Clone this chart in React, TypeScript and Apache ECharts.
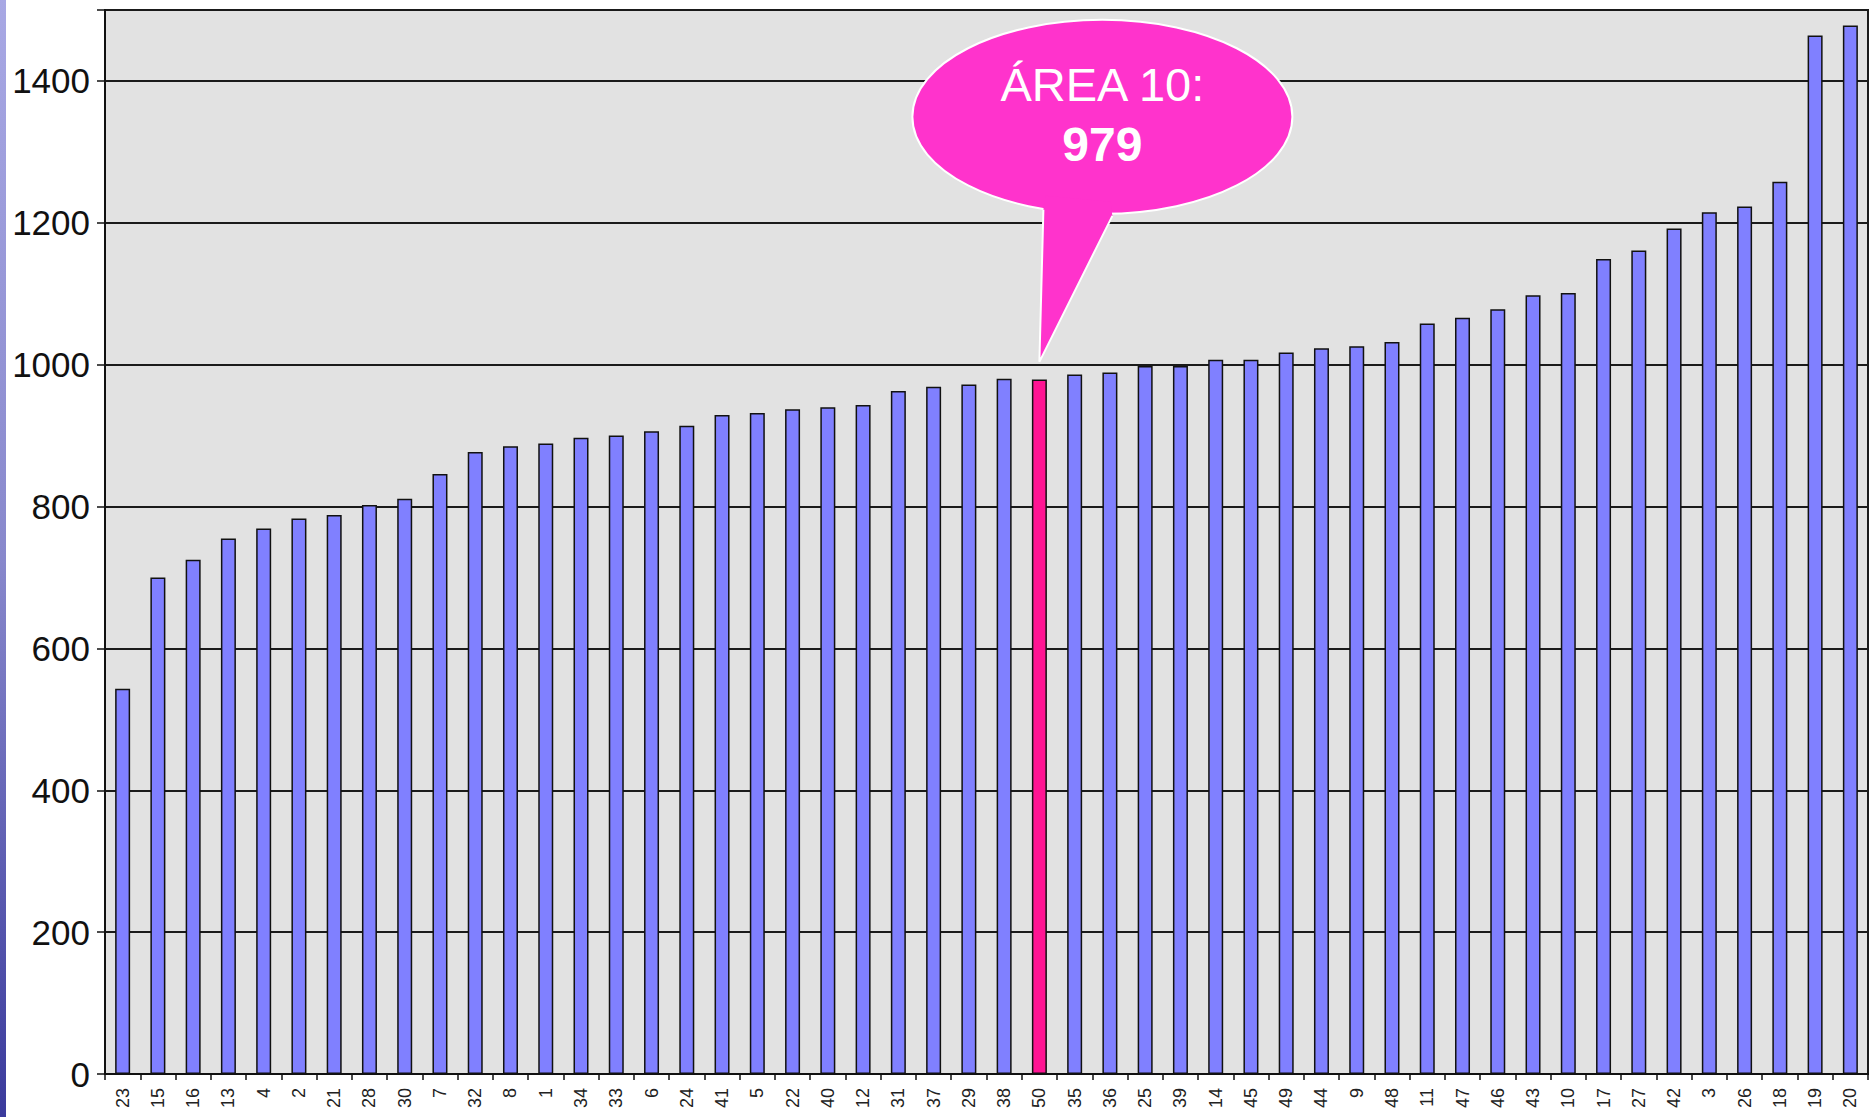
import React, { useEffect, useRef } from "react";
import * as echarts from "echarts";

const categories: string[] = [
  "23", "15", "16", "13", "4", "2", "21", "28", "30", "7",
  "32", "8", "1", "34", "33", "6", "24", "41", "5", "22",
  "40", "12", "31", "37", "29", "38", "50", "35", "36", "25",
  "39", "14", "45", "49", "44", "9", "48", "11", "47", "46",
  "43", "10", "17", "27", "42", "3", "26", "18", "19", "20",
];

const values: number[] = [
  543, 700, 725, 755, 769, 783, 788, 802, 811, 846,
  877, 885, 889, 897, 900, 906, 914, 929, 932, 937,
  940, 943, 963, 969, 972, 980, 979, 986, 989, 998,
  998, 1007, 1007, 1017, 1023, 1026, 1032, 1058, 1066, 1078,
  1098, 1101, 1149, 1161, 1192, 1215, 1223, 1258, 1464, 1478,
];

const highlightCategory = "50";
const calloutTitle = "ÁREA 10:";
const calloutValue = "979";

const yMin = 0;
const yMax = 1500;
const yInterval = 200;

const BAR_COLOR = "#8080FF";
const HIGHLIGHT_COLOR = "#FF1493";
const CALLOUT_COLOR = "#FF33CC";

export default function App() {
  const ref = useRef<HTMLDivElement>(null);

  useEffect(() => {
    if (!ref.current) return;
    const chart = echarts.init(ref.current, undefined, { renderer: "svg" });
    const font = "'Liberation Sans', Arial, sans-serif";

    chart.setOption({
      animation: false,
      backgroundColor: "#ffffff",
      grid: {
        left: 105,
        right: 8,
        top: 10,
        bottom: 43,
        show: true,
        backgroundColor: "#E2E2E2",
        borderColor: "#1a1a1a",
        borderWidth: 2,
        containLabel: false,
      },
      xAxis: {
        type: "category",
        data: categories,
        boundaryGap: true,
        axisLine: { show: true, lineStyle: { color: "#111", width: 2 } },
        axisTick: { show: true, length: 6, interval: 0, lineStyle: { color: "#111", width: 1.5 } },
        axisLabel: {
          interval: 0,
          rotate: 90,
          margin: 14,
          fontSize: 18,
          fontFamily: font,
          color: "#222",
        },
        splitLine: { show: false },
      },
      yAxis: {
        type: "value",
        min: yMin,
        max: yMax,
        interval: yInterval,
        axisLine: { show: true, lineStyle: { color: "#111", width: 2 } },
        axisTick: { show: true, length: 8, lineStyle: { color: "#111", width: 1.5 } },
        axisLabel: {
          fontSize: 35,
          margin: 15,
          fontFamily: font,
          color: "#111",
          formatter: (v: number) => (v === yMax ? "" : String(v)),
        },
        splitLine: { show: true, lineStyle: { color: "#1a1a1a", width: 2 } },
      },
      series: [
        {
          type: "bar",
          barWidth: 15,
          data: values.map((v, i) => ({
            value: v,
            itemStyle: {
              color: categories[i] === highlightCategory ? HIGHLIGHT_COLOR : BAR_COLOR,
            },
          })),
          itemStyle: { borderColor: "#111", borderWidth: 1.5 },
        },
      ],
    });

    const idx = categories.indexOf(highlightCategory);
    const tip = chart.convertToPixel({ gridIndex: 0 } as any, [idx, 1004]) as number[];
    const tx = tip[0];
    const ty = tip[1];
    const cx = tx + 63;
    const cy = ty - 245;
    const b1: [number, number] = [tx + 4, ty - 152];
    const b2: [number, number] = [tx + 73, ty - 146];

    chart.setOption({
      graphic: [
        {
          type: "rect",
          shape: { x: 0, y: 0, width: 6, height: 1117 },
          style: {
            fill: new echarts.graphic.LinearGradient(0, 0, 0, 1, [
              { offset: 0, color: "#A8A8E4" },
              { offset: 0.5, color: "#8888CC" },
              { offset: 1, color: "#3A3A9C" },
            ]),
          },
          silent: true,
        },
        {
          type: "ellipse",
          shape: { cx, cy, rx: 190, ry: 97 },
          style: { fill: CALLOUT_COLOR, stroke: "#ffffff", lineWidth: 2 },
          z: 100,
        },
        {
          type: "polygon",
          shape: {
            points: [
              [tx, ty],
              b1,
              [b1[0] + 2, b1[1] - 14],
              [b2[0] - 2, b2[1] - 14],
              b2,
            ],
          },
          style: { fill: CALLOUT_COLOR },
          z: 101,
        },
        {
          type: "polyline",
          shape: { points: [b1, [tx, ty], b2] },
          style: { stroke: "#ffffff", lineWidth: 2, fill: "none" },
          z: 102,
        },
        {
          type: "text",
          z: 103,
          style: {
            text: calloutTitle,
            x: cx,
            y: cy - 32,
            fill: "#ffffff",
            fontSize: 47,
            fontFamily: font,
            align: "center",
            verticalAlign: "middle",
          },
        },
        {
          type: "text",
          z: 103,
          style: {
            text: calloutValue,
            x: cx,
            y: cy + 28,
            fill: "#ffffff",
            fontSize: 48,
            fontWeight: "bold",
            fontFamily: font,
            align: "center",
            verticalAlign: "middle",
          },
        },
      ],
    });

    return () => {
      chart.dispose();
    };
  }, []);

  return (
    <div
      ref={ref}
      style={{ position: "fixed", left: 0, top: 0, width: 1876, height: 1117 }}
    />
  );
}
